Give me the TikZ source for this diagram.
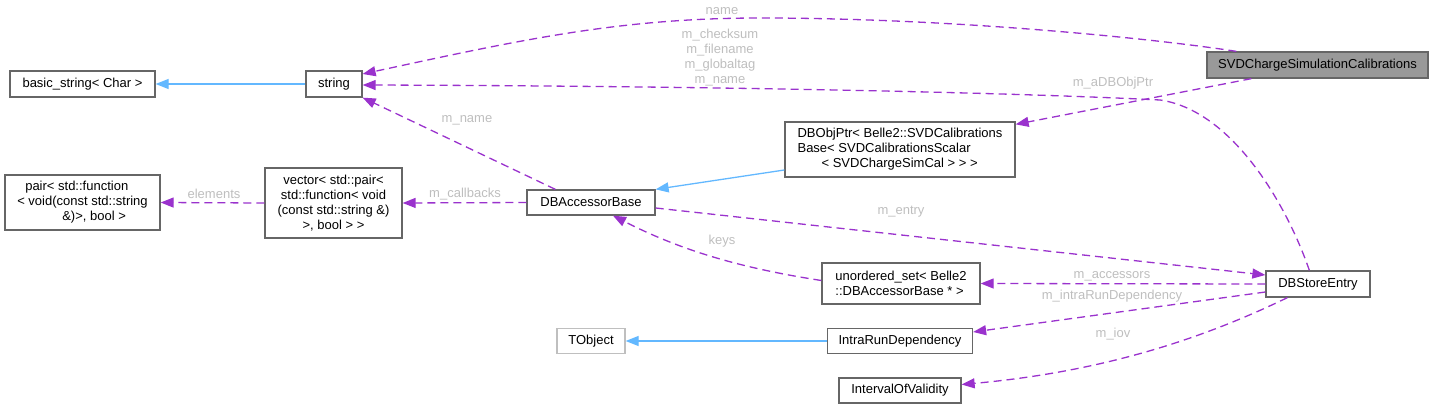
\documentclass[tikz,border=0pt]{standalone}
\usepackage{fontspec}
\setmainfont{Liberation Sans}
\usetikzlibrary{arrows.meta}
\definecolor{edgepurple}{HTML}{9A32CD}
\definecolor{edgeblue}{HTML}{63B8FF}
\definecolor{boxborder}{HTML}{666666}
\definecolor{lightborder}{HTML}{BFBFBF}
\definecolor{labelgray}{HTML}{BEBEBE}
\definecolor{mainfill}{HTML}{999999}
\tikzset{
  cls/.style={draw=boxborder, line width=1.3pt, fill=white, inner sep=0pt, font=\fontsize{13}{15}\selectfont, text=black},
  usage/.style={draw=edgepurple, line width=1.3pt, dash pattern=on 8pt off 5pt, -{Triangle[length=13pt,width=10pt,fill=edgepurple]}},
  inherit/.style={draw=edgeblue, line width=1.3pt, -{Triangle[length=13pt,width=10pt,fill=edgeblue]}},
  lbl/.style={text=labelgray, font=\fontsize{13}{15}\selectfont, inner sep=0pt, align=center},
}
\begin{document}
\begin{tikzpicture}[x=1pt,y=-1pt]
\useasboundingbox (0,0) rectangle (1433,409);
% nodes
\node[cls, minimum width=145pt, minimum height=26pt] (bs) at (82.5,84) {basic\_string< Char >};
\node[cls, minimum width=56pt, minimum height=26pt] (str) at (334,84) {string};
\node[cls, fill=mainfill, minimum width=221pt, minimum height=26pt] (svd) at (1317.5,65) {SVDChargeSimulationCalibrations};
\node[cls, minimum width=230pt, minimum height=55pt, align=left] (dbo) at (900,149.5) {DBObjPtr< Belle2::SVDCalibrations\\Base< SVDCalibrationsScalar\\\hspace*{24pt}< SVDChargeSimCal > > >};
\node[cls, minimum width=155pt, minimum height=55pt, align=left] (pair) at (82.5,202.5) {\hspace*{8pt}pair< std::function\\< void(const std::string\\\hspace*{45pt}\&)>, bool >};
\node[cls, minimum width=137pt, minimum height=70pt, align=center] (vec) at (333.5,203) {vector< std::pair<\\std::function< void\\(const std::string \&)\\>, bool > >};
\node[cls, minimum width=128pt, minimum height=25pt] (dba) at (591,202.5) {DBAccessorBase};
\node[cls, minimum width=158pt, minimum height=41pt, align=left] (uset) at (901,283.5) {unordered\_set< Belle2\\::DBAccessorBase * >};
\node[cls, minimum width=104pt, minimum height=26pt] (dbse) at (1318,284) {DBStoreEntry};
\node[cls, draw=lightborder, minimum width=68pt, minimum height=25pt] (tobj) at (591,341) {TObject};
\node[cls, minimum width=145pt, minimum height=25pt] (intra) at (900,341) {IntraRunDependency};
\node[cls, minimum width=122pt, minimum height=25pt] (iov) at (900,390.5) {IntervalOfValidity};
% inheritance
\draw[inherit] (str.west) -- (bs.east);
\draw[inherit] ([yshift=-20.5pt]dbo.west) -- (dba.north east);
\draw[inherit] (intra.west) -- (tobj.east);
% usage
\draw[usage] ([xshift=30pt]svd.north west) .. controls (1150,38) and (950,18) .. (760,18) .. controls (620,18) and (520,40) .. ([yshift=10pt]str.east);
\draw[usage] ([xshift=44pt]dbse.north west) .. controls (1285,200) and (1230,110) .. (1160,100) .. controls (1000,92) and (700,86) .. ([yshift=-1pt]str.east);
\draw[usage] ([xshift=45pt]svd.south west) -- ([yshift=-3pt]dbo.north east);
\draw[usage] ([xshift=29pt]dba.north west) -- (str.south east);
\draw[usage] (vec.west) -- (pair.east);
\draw[usage] (dba.west) -- (vec.east);
\draw[usage] ([yshift=-5.5pt]dba.east) -- ([yshift=9pt]dbse.west);
\draw[usage] ([yshift=3pt]uset.west) .. controls (740,268) and (680,250) .. ([xshift=22pt]dba.south);
\draw[usage] (dbse.west) -- (uset.east);
\draw[usage] ([yshift=-8pt]dbse.west) -- ([yshift=9pt]intra.east);
\draw[usage] ([xshift=22pt]dbse.south west) .. controls (1200,340) and (1100,372) .. ([yshift=6pt]iov.east);
% labels
\node[lbl] (lname) at (722,11) {name};
\node[lbl] (lmulti) at (720,57.5) {m\_checksum\\m\_filename\\m\_globaltag\\m\_name};
\node[lbl] (lptr) at (1113,83) {m\_aDBObjPtr};
\node[lbl] (lmname) at (467,120) {m\_name};
\node[lbl] (lelem) at (214,194) {elements};
\node[lbl] (lcb) at (465,194) {m\_callbacks};
\node[lbl] (lentry) at (901,212) {m\_entry};
\node[lbl] (lkeys) at (722,241) {keys};
\node[lbl] (lacc) at (1112,276) {m\_accessors};
\node[lbl] (lintra) at (1112,296) {m\_intraRunDependency};
\node[lbl] (liov) at (1113,334) {m\_iov};
\end{tikzpicture}
\end{document}
